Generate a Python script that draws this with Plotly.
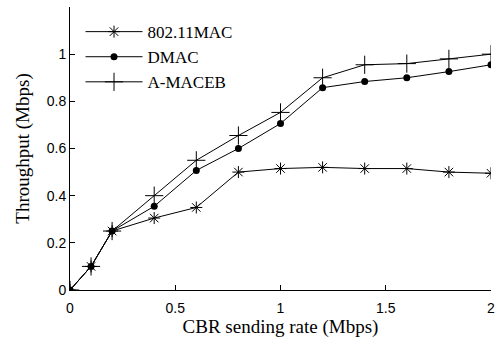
import plotly.graph_objects as go

rate = [0, 0.1, 0.2, 0.4, 0.6, 0.8, 1.0, 1.2, 1.4, 1.6, 1.8, 2.0]
mac80211 = [0, 0.1, 0.25, 0.305, 0.35, 0.5, 0.515, 0.52, 0.515, 0.515, 0.5, 0.495]
dmac = [0, 0.1, 0.25, 0.355, 0.507, 0.6, 0.706, 0.858, 0.884, 0.9, 0.926, 0.955]
amaceb = [0, 0.1, 0.25, 0.4, 0.55, 0.655, 0.753, 0.9, 0.955, 0.96, 0.98, 1.0]
names = ["802.11MAC", "DMAC", "A-MACEB"]
yticks = [0, 0.2, 0.4, 0.6, 0.8, 1]
xticks = [0, 0.5, 1, 1.5, 2]

fig = go.Figure()
fig.add_trace(go.Scatter(x=rate, y=mac80211, name=names[0], mode="lines+markers",
                         line=dict(color="black", width=1),
                         marker=dict(symbol="asterisk-open", size=10, color="black",
                                     line=dict(color="black", width=1))))
fig.add_trace(go.Scatter(x=rate, y=dmac, name=names[1], mode="lines+markers",
                         line=dict(color="black", width=1),
                         marker=dict(symbol="circle", size=7, color="black")))
fig.add_trace(go.Scatter(x=rate, y=amaceb, name=names[2], mode="lines+markers",
                         line=dict(color="black", width=1),
                         marker=dict(symbol="cross-thin-open", size=13, color="black",
                                     line=dict(color="black", width=1))))

serif = "Liberation Serif, Times New Roman, serif"
sans = "Liberation Sans, Arial, sans-serif"
fig.update_layout(
    width=499, height=347,
    margin=dict(l=70, r=4, t=7, b=57),
    paper_bgcolor="white", plot_bgcolor="white",
    showlegend=True,
    legend=dict(x=0.025, y=0.975, xanchor="left", yanchor="top",
                font=dict(family=serif, size=17, color="black"),
                itemwidth=57, bgcolor="rgba(0,0,0,0)", borderwidth=0,
                tracegroupgap=0),
    xaxis=dict(range=[0, 2], tickvals=xticks, ticktext=["0", "0.5", "1", "1.5", "2"],
               ticks="inside", ticklen=5, tickcolor="black", showline=True,
               linecolor="black", linewidth=1, showgrid=False, zeroline=False,
               ticklabelstandoff=5, ticklabeloverflow="allow",
               tickfont=dict(family=sans, size=14, color="black"),
               title=dict(text="CBR sending rate (Mbps)", standoff=4,
                          font=dict(family=serif, size=19, color="black"))),
    yaxis=dict(range=[0, 1.2], tickvals=yticks, ticktext=["0", "0.2", "0.4", "0.6", "0.8", "1"],
               ticks="inside", ticklen=5, tickcolor="black", showline=True,
               linecolor="black", linewidth=1, showgrid=False, zeroline=False,
               tickfont=dict(family=sans, size=14, color="black"),
               title=dict(text="Throughput (Mbps)", standoff=12,
                          font=dict(family=serif, size=19, color="black"))),
)
fig.write_html("out.html")
